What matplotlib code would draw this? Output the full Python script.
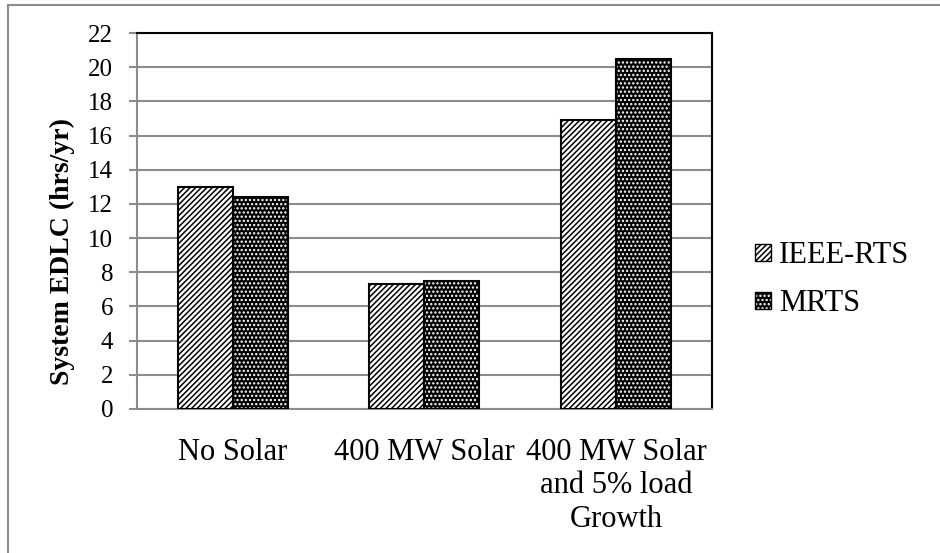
import matplotlib.pyplot as plt
from matplotlib.patches import Patch, Rectangle
import numpy as np

# EDLC results per case
categories = ["No Solar", "400 MW Solar", "400 MW Solar\nand 5% load\nGrowth"]
ieee_rts = [13.0, 7.3, 16.9]
mrts = [12.4, 7.5, 20.5]
series_names = ["IEEE-RTS", "MRTS"]
yticks = list(range(0, 23, 2))

plt.rcParams["font.family"] = "Liberation Serif"
plt.rcParams["hatch.linewidth"] = 1.1

HATCH_A = "//////"
HATCH_B = "...."

fig = plt.figure(figsize=(9.4, 5.53), dpi=100)
ax = fig.add_axes([0.1457, 0.2604, 0.6117, 0.6799])

x = np.arange(len(categories))
w = 0.287

# IEEE-RTS: diagonal hatch on white
ax.bar(x - w / 2, ieee_rts, w, color="white", edgecolor="black",
       hatch=HATCH_A, linewidth=1.5, zorder=3)
# MRTS: white dots on black, border drawn on top
ax.bar(x + w / 2, mrts, w, color="black", edgecolor="white",
       hatch=HATCH_B, linewidth=0, zorder=3)
ax.bar(x + w / 2, mrts, w, fill=False, edgecolor="black",
       linewidth=1.5, zorder=4)

ax.set_xlim(-0.5, 2.5)
ax.set_ylim(0, 22)
ax.set_yticks(yticks)
ax.set_xticks(x)
ax.set_xticklabels(categories, fontsize=22, linespacing=1.19)
ax.tick_params(axis="x", length=0, pad=21)
ax.tick_params(axis="y", labelsize=18, length=6, width=1.5, color="#8c8c8c", pad=11)

ax.yaxis.grid(True, color="#8c8c8c", linewidth=1.5, zorder=0)
ax.set_axisbelow(True)

for side in ("left", "bottom"):
    ax.spines[side].set_color("#8c8c8c")
    ax.spines[side].set_linewidth(1.5)
for side in ("top", "right"):
    ax.spines[side].set_color("black")
    ax.spines[side].set_linewidth(1.5)

ax.set_ylabel("System EDLC (hrs/yr)", fontsize=20, fontweight="bold")
ax.yaxis.set_label_coords(-0.108, 0.42)

h1 = Patch(facecolor="white", edgecolor="black", hatch=HATCH_A, linewidth=1.0)
h2a = Patch(facecolor="black", edgecolor="white", hatch=HATCH_B, linewidth=0)
h2b = Patch(fill=False, edgecolor="black", linewidth=1.0)
fig.legend([h1, (h2a, h2b)], series_names, loc="center left",
           bbox_to_anchor=(0.803, 0.494), frameon=False, fontsize=22,
           handlelength=0.52, handleheight=0.52, handletextpad=0.26,
           labelspacing=0.62, borderaxespad=0, borderpad=0)

# chart area border
fig.patches.append(Rectangle((0.0085, -0.1), 1.2, 1.091, transform=fig.transFigure,
                             fill=False, edgecolor="#8c8c8c", linewidth=1.5))

fig.savefig("out.png", dpi=100)
